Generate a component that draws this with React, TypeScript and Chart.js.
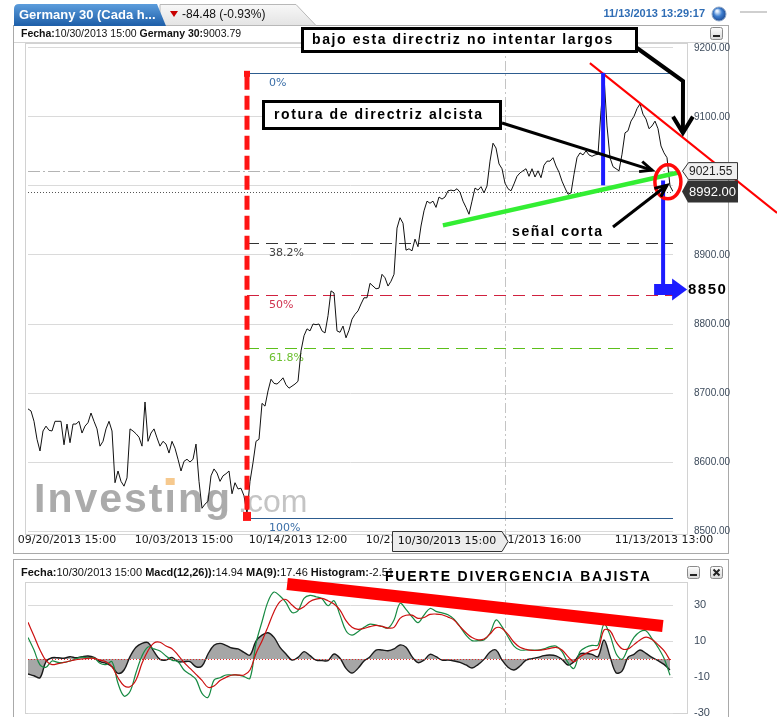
import { useEffect, useRef } from 'react';
import { Chart, registerables } from 'chart.js';
Chart.register(...registerables);

// ---------------- DATA ----------------
const priceValues = [
  8677, 8674, 8659, 8633, 8616, 8645, 8652, 8646, 8645, 8659,
  8659, 8659, 8625, 8655, 8628, 8655, 8655, 8659, 8642, 8652,
  8657, 8671, 8659, 8648, 8623, 8630, 8648, 8659, 8645, 8570,
  8587, 8572, 8565, 8577, 8648, 8645, 8641, 8636, 8623, 8687,
  8630, 8642, 8648, 8635, 8623, 8630, 8626, 8613, 8630, 8620,
  8604, 8587, 8601, 8604, 8600, 8604, 8626, 8572, 8533, 8539,
  8543, 8580, 8590, 8584, 8572, 8580, 8583, 8587, 8554, 8570,
  8561, 8562, 8551, 8525, 8572, 8599, 8630, 8633, 8685, 8681,
  8703, 8720, 8714, 8713, 8717, 8722, 8712, 8707, 8710, 8713,
  8717, 8761, 8783, 8793, 8790, 8800, 8799, 8800, 8790, 8787,
  8812, 8848, 8845, 8790, 8788, 8797, 8780, 8791, 8807, 8814,
  8819, 8829, 8838, 8838, 8859, 8855, 8851, 8852, 8872, 8867,
  8855, 8862, 8872, 8939, 8954, 8946, 8907, 8909, 8906, 8923,
  8912, 8942, 8964, 8978, 8975, 8978, 8969, 8984, 8981, 8984,
  8993, 8994, 8993, 8996, 8991, 8978, 8969, 8959, 8978, 8997,
  8994, 8999, 8990, 9000, 9036, 9062, 9055, 9032, 9025, 9004,
  8996, 8993, 9003, 9014, 9019, 9022, 9025, 9014, 9025, 9013,
  9022, 9012, 9030, 9036, 9036, 9041, 9029, 9020, 9007, 8997,
  8988, 8990, 9017, 9041, 9048, 9045, 9051, 9045, 9043, 9045,
  9046, 9109, 9159, 9087, 9041, 9028, 9025, 9022, 9046, 9077,
  9080, 9094, 9101, 9112, 9119, 9104, 9097, 9083, 9087, 9094,
  9083, 9058, 9048, 9041, 9000, 8992,
];
const xTickPositions = [13, 52, 90, 129, 168, 212];
const xTickLabels = [
  '09/20/2013 15:00', '10/03/2013 15:00', '10/14/2013 12:00',
  '10/23/2013 14:00', '11/01/2013 16:00', '11/13/2013 13:00',
];
const priceTicks = [8500, 8600, 8700, 8800, 8900, 9000, 9100, 9200];
const fibHigh = 9164;
const fibLow = 8519;
const fibLevels = [0, 0.382, 0.5, 0.618, 1];
const fibLabels = ['0%', '38.2%', '50%', '61.8%', '100%'];
const fibStartIndex = 73;
const cursorIndex = 159;
const cursorLabel = '10/30/2013 15:00';
const refLevel = 9021.55;
const lastPrice = 8992.0;
const targetLevel = 8850;
const greenTrend = [[138.3, 8943], [217.3, 9020]];
const redTrend = [[187.3, 9178], [249.7, 8961]];
const blueSpike = [191.7, 9164, 9001];
const blueArrow = [211.7, 9008, 8857];
const signalCircle = [213.3, 9006];

const macdValues = [
  12.0, 5.0, -3.3, -4.6, -1.1, -1.9, -1.9, -1.1, 0.2, 1.1,
  0.6, 0.7, -2.4, -3.1, -1.5, -13.5, -20.6, -18.1, -7.6, 1.7,
  6.7, 5.6, 4.4, 1.7, -0.6, -1.5, -6.1, -8.5, -11.3, -19.1,
  -21.3, -11.7, -10.4, -8.9, -8.9, -8.9, -9.8, -10.7, 8.7, 20.7,
  31.9, 37.2, 35.0, 31.3, 25.9, 26.9, 33.7, 35.4, 34.6, 33.5,
  29.6, 32.4, 24.4, 15.7, 13.3, 15.2, 17.6, 19.4, 18.9, 18.1,
  17.2, 21.7, 30.9, 27.6, 23.5, 20.2, 24.4, 28.1, 26.5, 25.6,
  24.6, 22.2, 18.0, 13.3, 10.2, 10.2, 10.6, 14.3, 21.7, 18.0,
  12.4, 7.2, 5.0, 5.0, 5.0, 5.0, 5.6, 6.9, 7.2, 4.1,
  -2.0, -5.2, 4.1, 6.5, 7.6, 7.8, 19.4, 13.3, 3.1, -0.2,
  5.9, 12.0, 15.2, 15.7, 11.3, 6.5, 0.4, -9.0,
];
const signalValues = [
  20.4, 12.8, 5.0, -0.9, -3.1, -2.6, -1.9, -1.1, -0.4, 0.0,
  0.4, 0.4, -0.6, -1.5, -4.3, -10.4, -14.8, -15.4, -11.7, -2.4,
  4.6, 8.9, 9.3, 7.2, 5.7, 2.2, -1.9, -5.2, -8.5, -11.9,
  -15.7, -15.0, -12.0, -10.2, -8.9, -8.9, -8.9, -6.1, 3.1, 10.0,
  18.0, 26.3, 31.9, 33.1, 30.0, 27.6, 29.1, 32.0, 33.3, 33.7,
  32.4, 30.6, 27.2, 21.3, 17.6, 16.5, 17.0, 18.0, 18.7, 18.1,
  17.2, 17.6, 22.6, 24.3, 24.4, 22.6, 23.1, 24.8, 25.0, 24.6,
  23.3, 21.7, 18.0, 14.6, 11.9, 10.7, 11.1, 13.9, 17.4, 17.0,
  13.7, 9.3, 6.5, 5.4, 4.8, 4.8, 5.2, 5.9, 6.5, 5.0,
  1.3, -1.5, 1.3, 3.1, 4.8, 5.7, 16.1, 15.7, 9.6, 5.7,
  5.6, 8.0, 10.6, 12.2, 10.9, 8.0, 4.6, -0.6,
];
const histValues = [
  -8.3, -9.3, -10.4, -1.5, 0.7, 0.7, 0.4, 1.3, 0.7, 1.3,
  1.7, 0.9, -1.5, -2.4, -4.3, -8.0, -6.1, 1.3, 6.5, 8.7,
  9.1, 4.1, -0.2, -0.6, 0.9, -1.5, -1.5, -1.5, -4.3, -3.9,
  2.8, 7.6, 8.7, 7.6, 6.1, 5.6, 3.7, 2.2, 10.0, 13.3,
  14.6, 12.0, 6.5, 2.8, -0.6, 0.9, 4.1, 1.9, -0.6, -0.9,
  -0.9, 2.8, 0.4, -5.2, -7.8, -5.2, -1.1, 1.3, 5.0, 5.0,
  4.6, 5.6, 7.8, 6.5, 1.3, -2.0, -0.6, 2.6, 1.3, -0.6,
  -0.6, -1.1, -1.9, -3.3, -5.0, -3.1, -0.2, 3.9, 5.0, -0.6,
  -4.6, -6.1, -3.9, -0.6, 0.2, 0.9, 1.9, 2.2, 1.7, -0.2,
  -3.3, -1.5, 2.8, 3.1, 2.6, 1.3, 10.6, 1.3, -7.6, -6.7,
  0.9, 2.6, 5.0, 3.1, 0.9, -0.9, -3.0, -6.1,
];
const macdTicks = [-30, -10, 10, 30];
const divergenceBar = [[43.2, 41.7], [105.8, 18.3]];

// ---------------- HELPERS ----------------
const SANS = '"Liberation Sans", Arial, sans-serif';
const DEJA = '"DejaVu Sans", Verdana, sans-serif';

function richText(ctx: any, parts: [string, boolean][], x: number, y: number, size: number, color: string) {
  ctx.save();
  ctx.textBaseline = 'middle';
  ctx.textAlign = 'left';
  ctx.fillStyle = color;
  let cx = x;
  for (const [t, b] of parts) {
    ctx.font = `${b ? 'bold ' : ''}${size}px ${SANS}`;
    ctx.fillText(t, cx, y);
    cx += ctx.measureText(t).width;
  }
  ctx.restore();
}

function spacedText(ctx: any, text: string, x: number, y: number, font: string, spacing: number, color = '#000') {
  ctx.save();
  ctx.font = font;
  ctx.fillStyle = color;
  ctx.textBaseline = 'middle';
  ctx.textAlign = 'left';
  try { ctx.letterSpacing = spacing + 'px'; } catch (e) { /* ignore */ }
  ctx.fillText(text, x, y);
  ctx.restore();
}

function arrowHead(ctx: any, fx: number, fy: number, tx: number, ty: number, len: number, ang: number) {
  const a = Math.atan2(ty - fy, tx - fx);
  ctx.beginPath();
  ctx.moveTo(tx - len * Math.cos(a - ang), ty - len * Math.sin(a - ang));
  ctx.lineTo(tx, ty);
  ctx.lineTo(tx - len * Math.cos(a + ang), ty - len * Math.sin(a + ang));
  ctx.stroke();
}

function iconBox(ctx: any, x: number, y: number, close: boolean) {
  ctx.save();
  const g = ctx.createLinearGradient(0, y, 0, y + 12);
  g.addColorStop(0, '#ffffff');
  g.addColorStop(1, '#d8d8d8');
  ctx.fillStyle = g;
  ctx.strokeStyle = '#8a8a8a';
  ctx.lineWidth = 1;
  ctx.beginPath();
  ctx.roundRect(x + 0.5, y + 0.5, 12, 12, 2);
  ctx.fill();
  ctx.stroke();
  ctx.strokeStyle = '#222';
  ctx.lineWidth = 2;
  ctx.beginPath();
  if (close) {
    ctx.moveTo(x + 3.5, y + 3.5); ctx.lineTo(x + 9.5, y + 9.5);
    ctx.moveTo(x + 9.5, y + 3.5); ctx.lineTo(x + 3.5, y + 9.5);
  } else {
    ctx.moveTo(x + 3, y + 9); ctx.lineTo(x + 10, y + 9);
  }
  ctx.stroke();
  ctx.restore();
}

// ---------------- MAIN CHART PLUGIN ----------------
const mainDecor = {
  id: 'mainDecor',
  beforeDraw(chart: any) {
    const ctx = chart.ctx;
    ctx.save();
    ctx.fillStyle = '#fff';
    ctx.fillRect(0, 0, chart.width, chart.height);
    ctx.strokeStyle = '#a9a9a9';
    ctx.lineWidth = 1;
    ctx.strokeRect(13.5, 25.5, 715, 528);
    ctx.strokeStyle = '#d4d4d4';
    ctx.beginPath(); ctx.moveTo(14, 42.5); ctx.lineTo(728, 42.5); ctx.stroke();
    const gg = ctx.createLinearGradient(0, 4, 0, 25);
    gg.addColorStop(0, '#f8f8f8');
    gg.addColorStop(1, '#e4e4e4');
    ctx.fillStyle = gg;
    ctx.strokeStyle = '#b8b8b8';
    ctx.beginPath();
    ctx.moveTo(160, 25.5); ctx.lineTo(160, 4.5); ctx.lineTo(296, 4.5); ctx.lineTo(316, 25.5);
    ctx.closePath(); ctx.fill(); ctx.stroke();
    const bg = ctx.createLinearGradient(0, 4, 0, 25);
    bg.addColorStop(0, '#5c9ddc');
    bg.addColorStop(1, '#1f60aa');
    ctx.fillStyle = bg;
    ctx.beginPath();
    ctx.moveTo(14, 26); ctx.lineTo(14, 9); ctx.quadraticCurveTo(14, 4, 19, 4);
    ctx.lineTo(157, 4); ctx.lineTo(166, 26); ctx.closePath(); ctx.fill();
    ctx.restore();
    richText(ctx, [['Germany 30 (Cada h...', true]], 19, 15, 13, '#ffffff');
    ctx.save();
    ctx.fillStyle = '#c80000';
    ctx.beginPath(); ctx.moveTo(170, 11); ctx.lineTo(178, 11); ctx.lineTo(174, 17); ctx.closePath(); ctx.fill();
    ctx.restore();
    richText(ctx, [['-84.48 (-0.93%)', false]], 182, 15, 12, '#111');
    ctx.save();
    ctx.font = `bold 11px ${SANS}`;
    ctx.fillStyle = '#2f6db5';
    ctx.textAlign = 'right';
    ctx.textBaseline = 'middle';
    ctx.fillText('11/13/2013 13:29:17', 705, 14);
    const rg = ctx.createRadialGradient(717, 11, 1, 719, 14, 8);
    rg.addColorStop(0, '#e8f2ff');
    rg.addColorStop(0.45, '#3f7fd0');
    rg.addColorStop(1, '#173f86');
    ctx.fillStyle = rg;
    ctx.beginPath(); ctx.arc(719, 14, 7, 0, Math.PI * 2); ctx.fill();
    ctx.strokeStyle = '#8fa8c8'; ctx.lineWidth = 1; ctx.stroke();
    ctx.strokeStyle = '#cfcfcf'; ctx.lineWidth = 2;
    ctx.beginPath(); ctx.moveTo(740, 12); ctx.lineTo(767, 12); ctx.stroke();
    ctx.restore();
    richText(ctx, [['Fecha:', true], ['10/30/2013 15:00 ', false], ['Germany 30:', true], ['9003.79', false]], 21, 34, 10.5, '#111');
    iconBox(ctx, 710, 27, false);
    ctx.save();
    ctx.fillStyle = '#fff';
    ctx.fillRect(25, 43, 662, 491);
    ctx.strokeStyle = '#d2d2d2';
    ctx.strokeRect(25.5, 43.5, 662, 491);
    ctx.restore();
  },
  beforeDatasetsDraw(chart: any) {
    const ctx = chart.ctx;
    const xs = chart.scales.x, ys = chart.scales.y;
    const ca = chart.chartArea;
    ctx.save();
    ctx.textBaseline = 'alphabetic';
    ctx.textAlign = 'left';
    ctx.font = `bold 41px ${SANS}`;
    try { ctx.letterSpacing = '2px'; } catch (e) {}
    ctx.fillStyle = '#ababab';
    const wx = 34, wy = 512;
    ctx.fillText('Invest\u0131ng', wx, wy);
    const wPre = ctx.measureText('Invest').width;
    const wI = ctx.measureText('\u0131').width;
    ctx.fillStyle = '#f6c98e';
    ctx.fillRect(wx + wPre + (wI - 2) / 2 - 4.5, 478, 9, 7);
    ctx.font = `32px ${SANS}`;
    try { ctx.letterSpacing = '0px'; } catch (e) {}
    ctx.fillStyle = '#c4c4c4';
    ctx.fillText('.com', 238, wy);
    ctx.restore();

    ctx.save();
    const cx = Math.round(xs.getPixelForValue(cursorIndex)) + 0.5;
    ctx.strokeStyle = '#c4c4c4';
    ctx.setLineDash([10, 3, 2, 3]);
    ctx.beginPath(); ctx.moveTo(cx, ca.top); ctx.lineTo(cx, ca.bottom); ctx.stroke();
    const yr = Math.round(ys.getPixelForValue(refLevel)) + 0.5;
    ctx.strokeStyle = '#b4b4b4';
    ctx.setLineDash([12, 3, 2, 3]);
    ctx.beginPath(); ctx.moveTo(ca.left, yr); ctx.lineTo(ca.right, yr); ctx.stroke();
    const yl = Math.round(ys.getPixelForValue(lastPrice)) + 0.5;
    ctx.strokeStyle = '#555';
    ctx.setLineDash([1, 2]);
    ctx.beginPath(); ctx.moveTo(ca.left, yl); ctx.lineTo(ca.right, yl); ctx.stroke();
    const fibColors = ['#2d5c8f', '#333333', '#d0213f', '#5cbf1a', '#2d5c8f'];
    const fibTextColors = ['#3b6fa8', '#444444', '#d0334f', '#6cc030', '#3b6fa8'];
    const fx = xs.getPixelForValue(fibStartIndex);
    fibLevels.forEach((lv, k) => {
      const p = fibHigh - lv * (fibHigh - fibLow);
      const y = Math.round(ys.getPixelForValue(p)) + 0.5;
      ctx.strokeStyle = fibColors[k];
      ctx.lineWidth = 1;
      ctx.setLineDash(lv === 0 || lv === 1 ? [] : [12, 7]);
      ctx.beginPath(); ctx.moveTo(fx, y); ctx.lineTo(ca.right, y); ctx.stroke();
      ctx.font = `11px ${DEJA}`;
      ctx.fillStyle = fibTextColors[k];
      ctx.textBaseline = 'middle';
      ctx.fillText(fibLabels[k], fx + 22, y + 9.5);
    });
    ctx.restore();
  },
  afterDatasetsDraw(chart: any) {
    const ctx = chart.ctx;
    const xs = chart.scales.x, ys = chart.scales.y;
    const px = (v: number) => xs.getPixelForValue(v);
    const py = (v: number) => ys.getPixelForValue(v);
    ctx.save();
    ctx.lineCap = 'butt';
    const rx = px(fibStartIndex);
    ctx.strokeStyle = '#ff1414';
    ctx.lineWidth = 5;
    ctx.setLineDash([14, 6]);
    ctx.beginPath(); ctx.moveTo(rx, py(fibHigh) + 3); ctx.lineTo(rx, py(fibLow) - 4); ctx.stroke();
    ctx.setLineDash([]);
    ctx.fillStyle = '#ff1414';
    ctx.fillRect(rx - 3, py(fibHigh) - 2, 6, 6);
    ctx.fillRect(rx - 4, py(fibLow) - 6, 8, 9);
    ctx.strokeStyle = '#33ee33';
    ctx.lineWidth = 4.5;
    ctx.beginPath();
    ctx.moveTo(px(greenTrend[0][0]), py(greenTrend[0][1]));
    ctx.lineTo(px(greenTrend[1][0]), py(greenTrend[1][1]));
    ctx.stroke();
    ctx.strokeStyle = '#ff0000';
    ctx.lineWidth = 2;
    ctx.beginPath();
    ctx.moveTo(px(redTrend[0][0]), py(redTrend[0][1]));
    ctx.lineTo(px(redTrend[1][0]), py(redTrend[1][1]));
    ctx.stroke();
    ctx.strokeStyle = '#1c1cff';
    ctx.lineWidth = 4;
    ctx.beginPath(); ctx.moveTo(px(blueSpike[0]), py(blueSpike[1])); ctx.lineTo(px(blueSpike[0]), py(blueSpike[2])); ctx.stroke();
    const bx = px(blueArrow[0]);
    ctx.beginPath(); ctx.moveTo(bx, py(blueArrow[1])); ctx.lineTo(bx, py(blueArrow[2])); ctx.stroke();
    const ty = py(targetLevel);
    ctx.fillStyle = '#1c1cff';
    ctx.fillRect(bx - 9, ty - 5.5, 19, 11);
    ctx.beginPath(); ctx.moveTo(bx + 9, ty - 11); ctx.lineTo(bx + 24, ty); ctx.lineTo(bx + 9, ty + 11); ctx.closePath(); ctx.fill();
    ctx.strokeStyle = '#ff0a0a';
    ctx.lineWidth = 3.5;
    ctx.beginPath(); ctx.ellipse(px(signalCircle[0]), py(signalCircle[1]), 13, 17, 0, 0, Math.PI * 2); ctx.stroke();
    ctx.strokeStyle = '#000';
    ctx.lineWidth = 3;
    ctx.lineJoin = 'miter';
    const aTip = [px(208), py(9023)];
    ctx.beginPath(); ctx.moveTo(502, 123); ctx.lineTo(aTip[0], aTip[1]); ctx.stroke();
    arrowHead(ctx, 502, 123, aTip[0], aTip[1], 13, 0.42);
    const bTip = [px(213), py(9001)];
    ctx.beginPath(); ctx.moveTo(613, 227); ctx.lineTo(bTip[0], bTip[1]); ctx.stroke();
    arrowHead(ctx, 613, 227, bTip[0], bTip[1], 13, 0.42);
    const cTip = [px(218.3), py(9077)];
    ctx.lineWidth = 4;
    ctx.beginPath(); ctx.moveTo(637, 48); ctx.lineTo(683, 81); ctx.lineTo(cTip[0], cTip[1] - 2); ctx.stroke();
    arrowHead(ctx, 683, 81, cTip[0], cTip[1], 19, 0.55);
    ctx.fillStyle = '#fff';
    ctx.strokeStyle = '#000';
    ctx.lineWidth = 3;
    ctx.fillRect(302, 28, 335, 24); ctx.strokeRect(302.5, 28.5, 334, 23);
    ctx.fillRect(263, 101, 238, 28); ctx.strokeRect(263.5, 101.5, 237, 27);
    ctx.restore();
    spacedText(ctx, 'bajo esta directriz no intentar largos', 312, 40, `bold 14px ${SANS}`, 1.6);
    spacedText(ctx, 'rotura de directriz alcista', 274, 115, `bold 14px ${SANS}`, 1.6);
    spacedText(ctx, 'señal corta', 512, 232, `bold 14px ${SANS}`, 1.6);
    spacedText(ctx, '8850', 688, ty, `bold 15px ${SANS}`, 1.5);
    ctx.save();
    const y1 = py(refLevel);
    ctx.fillStyle = '#f0f0f0';
    ctx.strokeStyle = '#333';
    ctx.lineWidth = 1;
    ctx.beginPath();
    ctx.moveTo(682.5, y1); ctx.lineTo(688.5, y1 - 8.5); ctx.lineTo(737.5, y1 - 8.5); ctx.lineTo(737.5, y1 + 8.5); ctx.lineTo(688.5, y1 + 8.5);
    ctx.closePath(); ctx.fill(); ctx.stroke();
    ctx.fillStyle = '#222';
    ctx.font = `12px ${SANS}`;
    ctx.textBaseline = 'middle';
    ctx.fillText('9021.55', 689, y1 + 0.5);
    const y2 = py(lastPrice);
    ctx.fillStyle = '#333';
    ctx.beginPath();
    ctx.moveTo(682, y2); ctx.lineTo(688, y2 - 11); ctx.lineTo(738, y2 - 11); ctx.lineTo(738, y2 + 11); ctx.lineTo(688, y2 + 11);
    ctx.closePath(); ctx.fill();
    ctx.fillStyle = '#fff';
    ctx.font = `13px ${SANS}`;
    ctx.fillText('8992.00', 689, y2 + 0.5);
    ctx.restore();
  },
  afterDraw(chart: any) {
    const ctx = chart.ctx;
    const xs = chart.scales.x;
    const tip = xs.getPixelForValue(cursorIndex) + 3;
    ctx.save();
    ctx.fillStyle = '#ececec';
    ctx.strokeStyle = '#333';
    ctx.lineWidth = 1;
    ctx.beginPath();
    ctx.moveTo(392.5, 531.5); ctx.lineTo(tip - 6, 531.5); ctx.lineTo(tip, 541.5); ctx.lineTo(tip - 6, 551.5); ctx.lineTo(392.5, 551.5);
    ctx.closePath(); ctx.fill(); ctx.stroke();
    ctx.fillStyle = '#111';
    ctx.font = `11px ${DEJA}`;
    ctx.textAlign = 'center';
    ctx.textBaseline = 'middle';
    ctx.fillText(cursorLabel, (392 + tip - 6) / 2, 541.5);
    ctx.restore();
  },
};

// ---------------- MACD PLUGIN ----------------
const macdDecor = {
  id: 'macdDecor',
  beforeDraw(chart: any) {
    const ctx = chart.ctx;
    ctx.save();
    ctx.fillStyle = '#fff';
    ctx.fillRect(0, 0, chart.width, chart.height);
    ctx.strokeStyle = '#a9a9a9';
    ctx.lineWidth = 1;
    ctx.strokeRect(13.5, 0.5, 715, 170);
    ctx.fillStyle = '#fff';
    ctx.fillRect(25, 23, 662, 131);
    ctx.strokeStyle = '#d2d2d2';
    ctx.strokeRect(25.5, 23.5, 662, 131);
    ctx.restore();
    richText(ctx, [['Fecha:', true], ['10/30/2013 15:00 ', false], ['Macd(12,26)):', true], ['14.94 ', false], ['MA(9):', true], ['17.46 ', false], ['Histogram:', true], ['-2.51', false]], 21, 14, 11, '#111');
    iconBox(ctx, 687, 7, false);
    iconBox(ctx, 710, 7, true);
  },
  beforeDatasetsDraw(chart: any) {
    const ctx = chart.ctx;
    const xs = chart.scales.x;
    const ca = chart.chartArea;
    ctx.save();
    const cx = Math.round(xs.getPixelForValue(cursorIndex / 2)) + 0.5;
    ctx.strokeStyle = '#c4c4c4';
    ctx.setLineDash([10, 3, 2, 3]);
    ctx.beginPath(); ctx.moveTo(cx, ca.top); ctx.lineTo(cx, ca.bottom); ctx.stroke();
    ctx.restore();
  },
  afterDatasetsDraw(chart: any) {
    const ctx = chart.ctx;
    const xs = chart.scales.x, ys = chart.scales.y;
    const ca = chart.chartArea;
    ctx.save();
    const y0 = Math.round(ys.getPixelForValue(0)) + 0.5;
    ctx.strokeStyle = '#e02828';
    ctx.setLineDash([1, 2]);
    ctx.beginPath(); ctx.moveTo(ca.left, y0); ctx.lineTo(ca.right, y0); ctx.stroke();
    ctx.setLineDash([]);
    ctx.strokeStyle = '#ff0000';
    ctx.lineWidth = 12;
    ctx.beginPath();
    ctx.moveTo(xs.getPixelForValue(divergenceBar[0][0]), ys.getPixelForValue(divergenceBar[0][1]));
    ctx.lineTo(xs.getPixelForValue(divergenceBar[1][0]), ys.getPixelForValue(divergenceBar[1][1]));
    ctx.stroke();
    ctx.restore();
    spacedText(ctx, 'FUERTE DIVERGENCIA BAJISTA', 385, 18, `bold 14px ${SANS}`, 1.8);
  },
};

// ---------------- CONFIGS ----------------
const yTickCommon = {
  padding: 0,
  color: '#3d4b5c',
};
const yGridCommon = { color: '#dadada', drawTicks: true, tickLength: 21, tickColor: 'rgba(0,0,0,0)' };

function mainConfig(): any {
  return {
    type: 'line',
    data: {
      datasets: [{
        data: priceValues.map((v, i) => ({ x: i, y: v })),
        borderColor: '#111',
        borderWidth: 1,
        pointRadius: 0,
        tension: 0,
      }],
    },
    options: {
      animation: false,
      responsive: false,
      maintainAspectRatio: false,
      events: [],
      layout: { padding: { left: 28, top: 43, right: 0, bottom: 0 } },
      plugins: { legend: { display: false }, tooltip: { enabled: false } },
      scales: {
        x: {
          type: 'linear',
          min: 0,
          max: priceValues.length - 1,
          afterBuildTicks: (s: any) => { s.ticks = xTickPositions.map((v) => ({ value: v })); },
          afterFit: (s: any) => { s.height = 23; },
          ticks: {
            autoSkip: false,
            maxRotation: 0,
            padding: 0,
            color: '#1a1a1a',
            font: { family: 'DejaVu Sans', size: 11 },
            callback: (v: number) => {
              const k = xTickPositions.indexOf(v);
              return k >= 0 ? xTickLabels[k] : '';
            },
          },
          grid: { display: false, drawTicks: false },
          border: { display: false },
        },
        y: {
          position: 'right',
          min: 8495.7,
          max: 9207.2,
          afterBuildTicks: (s: any) => { s.ticks = priceTicks.map((v) => ({ value: v })); },
          afterFit: (s: any) => { s.width = 104; },
          ticks: {
            ...yTickCommon,
            font: { family: 'Liberation Sans', size: 10, lineHeight: 0.5 },
            callback: (v: number) => Number(v).toFixed(2),
          },
          grid: yGridCommon,
          border: { display: false },
        },
      },
    },
    plugins: [mainDecor],
  };
}

function macdConfig(): any {
  const toXY = (arr: number[]) => arr.map((v, i) => ({ x: i, y: v }));
  return {
    type: 'line',
    data: {
      datasets: [
        { data: toXY(signalValues), borderColor: '#cc1010', borderWidth: 1.2, pointRadius: 0, tension: 0.35, fill: false },
        { data: toXY(macdValues), borderColor: '#168a42', borderWidth: 1.2, pointRadius: 0, tension: 0.35, fill: false },
        { data: toXY(histValues), borderColor: '#1a1a1a', borderWidth: 1.4, pointRadius: 0, tension: 0.35, fill: 'origin', backgroundColor: 'rgba(150,150,150,0.85)' },
      ],
    },
    options: {
      animation: false,
      responsive: false,
      maintainAspectRatio: false,
      events: [],
      layout: { padding: { left: 28, top: 23, right: 0, bottom: 4 } },
      plugins: { legend: { display: false }, tooltip: { enabled: false } },
      scales: {
        x: { type: 'linear', min: 0, max: 107.5, display: false },
        y: {
          position: 'right',
          min: -30,
          max: 42.8,
          afterBuildTicks: (s: any) => { s.ticks = macdTicks.map((v) => ({ value: v })); },
          afterFit: (s: any) => { s.width = 104; },
          ticks: {
            ...yTickCommon,
            font: { family: 'Liberation Sans', size: 11, lineHeight: 0.5 },
          },
          grid: yGridCommon,
          border: { display: false },
        },
      },
    },
    plugins: [macdDecor],
  };
}

export default function App() {
  const mainRef = useRef<HTMLCanvasElement>(null);
  const macdRef = useRef<HTMLCanvasElement>(null);
  useEffect(() => {
    const c1 = new Chart(mainRef.current as HTMLCanvasElement, mainConfig());
    const c2 = new Chart(macdRef.current as HTMLCanvasElement, macdConfig());
    return () => { c1.destroy(); c2.destroy(); };
  }, []);
  return (
    <div style={{ position: 'absolute', left: 0, top: 0, width: 777, height: 717, background: '#fff', overflow: 'hidden' }}>
      <canvas ref={mainRef} width={777} height={557} style={{ position: 'absolute', left: 0, top: 0, width: 777, height: 557 }} />
      <canvas ref={macdRef} width={777} height={158} style={{ position: 'absolute', left: 0, top: 559, width: 777, height: 158 }} />
    </div>
  );
}
